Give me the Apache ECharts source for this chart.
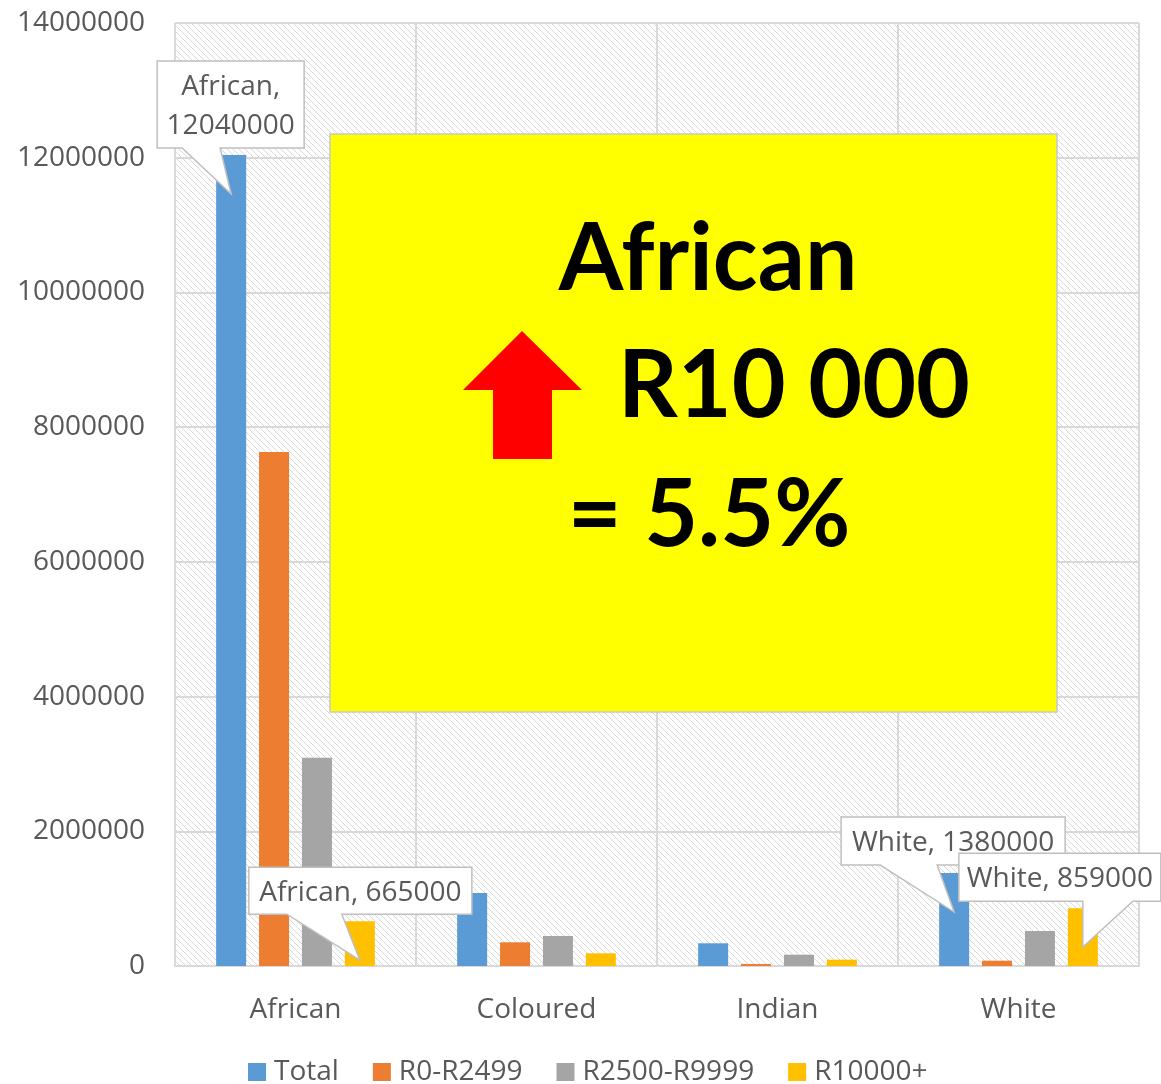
<!DOCTYPE html>
<html><head><meta charset="utf-8">
<script src="https://cdn.jsdelivr.net/npm/echarts@6/dist/echarts.min.js"></script>
<style>html,body{margin:0;padding:0;background:#fff}#c{width:1161px;height:1084px}</style>
</head><body><div id="c"></div>
<script>
// ---- data ----
const categories = ['African', 'Coloured', 'Indian', 'White'];
const seriesNames = ['Total', 'R0-R2499', 'R2500-R9999', 'R10000+'];
const totalValues = [12040000, 1084000, 337000, 1380000];
const r0to2499Values = [7630000, 352000, 30000, 79000];
const r2500to9999Values = [3090000, 445000, 168000, 520000];
const r10000plusValues = [665000, 188000, 94000, 859000];
const yMin = 0, yMax = 14000000, yStep = 2000000;
// callouts: which bar they point at
const calloutTargets = [
  { series: 0, cat: 0, multiline: true },
  { series: 3, cat: 0 },
  { series: 0, cat: 3 },
  { series: 3, cat: 3 }
];
const noteLines = ['African', 'R10 000', '= 5.5%'];

// ---- styles ----
const colors = ['#5B9BD5', '#ED7D31', '#A5A5A5', '#FFC000'];
const FONT = '"Open Sans", "Liberation Sans", sans-serif';
const TXT = '#595959';
// callout box geometry relative to pointer tip: [left,right,top,bottom,baseA,baseB]
const calloutGeom = [
  [-74, 73, -133, -46, -49, -11],
  [-111, 112, -93, -46, -73, -18],
  [-113, 111, -95, -47, -74, -17],
  [-124, 78, -94, -46, 0, 50]
];
const TIP_DEPTH = 39;

const pc = document.createElement('canvas');
pc.width = 6; pc.height = 6;
const g = pc.getContext('2d');
g.fillStyle = '#ffffff'; g.fillRect(0, 0, 6, 6);
g.strokeStyle = '#d8d8d8'; g.lineWidth = 1;
g.beginPath();
g.moveTo(0, 0); g.lineTo(6, 6);
g.moveTo(-1, 5); g.lineTo(1, 7);
g.moveTo(5, -1); g.lineTo(7, 1);
g.stroke();
const hatch = { image: pc, repeat: 'repeat' };

const allValues = [totalValues, r0to2499Values, r2500to9999Values, r10000plusValues];

const chart = echarts.init(document.getElementById('c'), null, { renderer: 'canvas' });
chart.setOption({
  animation: false,
  backgroundColor: '#ffffff',
  color: colors,
  grid: {
    left: 175, right: 22, top: 23, bottom: 118,
    show: true, backgroundColor: hatch, borderWidth: 0,
    outerBoundsMode: 'none', containLabel: false
  },
  legend: {
    data: seriesNames,
    left: 243, top: 1053,
    icon: 'rect', itemWidth: 18, itemHeight: 18, itemGap: 34,
    textStyle: { fontFamily: FONT, fontSize: 28, color: TXT, padding: [0, 0, 0, 3] }
  },
  xAxis: {
    type: 'category', data: categories,
    axisLine: { show: true, lineStyle: { color: '#d9d9d9', width: 2 } },
    axisTick: { show: false },
    splitLine: { show: true, lineStyle: { color: '#d9d9d9', width: 2 } },
    axisLabel: { fontFamily: FONT, fontSize: 28, color: TXT, margin: 30 }
  },
  yAxis: {
    type: 'value', min: yMin, max: yMax, interval: yStep,
    axisLine: { show: false }, axisTick: { show: false },
    splitLine: { show: true, lineStyle: { color: '#d9d9d9', width: 2 } },
    axisLabel: { fontFamily: FONT, fontSize: 28, color: TXT, margin: 30, formatter: v => String(v) }
  },
  series: seriesNames.map((n, i) => ({
    name: n, type: 'bar', data: allValues[i],
    barWidth: 30, barGap: '43%',
    itemStyle: { color: colors[i] }
  }))
});

const BIG = { fontFamily: 'Lato, sans-serif', fontWeight: 'bold', fontSize: 93, fill: '#000000', align: 'center', verticalAlign: 'middle' };
const gfx = [
  { type: 'rect', id: 'note', z: 50, shape: { x: 330, y: 134, width: 727, height: 578 },
    style: { fill: '#FFFF00', stroke: '#c8c8c8', lineWidth: 1.5 } },
  { type: 'polygon', id: 'arrow', z: 51, shape: { points: [[522, 331], [582, 390], [552, 390], [552, 459], [493, 459], [493, 390], [463, 390]] },
    style: { fill: '#FF0000' } },
  { type: 'text', id: 'n1', x: 708, y: 260, z: 51, style: Object.assign({ text: noteLines[0] }, BIG) },
  { type: 'text', id: 'n2', x: 794, y: 387, z: 51, style: Object.assign({ text: noteLines[1] }, BIG) },
  { type: 'text', id: 'n3', x: 709, y: 516, z: 51, style: Object.assign({ text: noteLines[2] }, BIG) }
];

// callouts anchored to the bars laid out by ECharts
const model = chart.getModel();
calloutTargets.forEach((t, k) => {
  const data = model.getSeriesByIndex(t.series).getData();
  const lay = data.getItemLayout(t.cat);
  const cx = lay.x + lay.width / 2;
  const top = Math.min(lay.y, lay.y + lay.height);
  const tx = cx, ty = top + TIP_DEPTH;
  const [L, R, T, B, a, b] = calloutGeom[k];
  const pts = [[tx + L, ty + T], [tx + R, ty + T], [tx + R, ty + B], [tx + b, ty + B], [tx, ty], [tx + a, ty + B], [tx + L, ty + B]];
  const val = allValues[t.series][t.cat];
  const label = categories[t.cat] + ',' + (t.multiline ? '\n' : ' ') + val;
  gfx.push({ type: 'polygon', id: 'cb' + k, z: 60 + k * 2, shape: { points: pts },
    style: { fill: '#ffffff', stroke: '#bfbfbf', lineWidth: 1.5 } });
  gfx.push({ type: 'text', id: 'ct' + k, z: 61 + k * 2, x: tx + (L + R) / 2, y: ty + (T + B) / 2 + 2,
    style: { text: label, fontFamily: FONT, fontSize: 28, fill: TXT, align: 'center', verticalAlign: 'middle', lineHeight: 39 } });
});
chart.setOption({ graphic: gfx });
</script></body></html>
